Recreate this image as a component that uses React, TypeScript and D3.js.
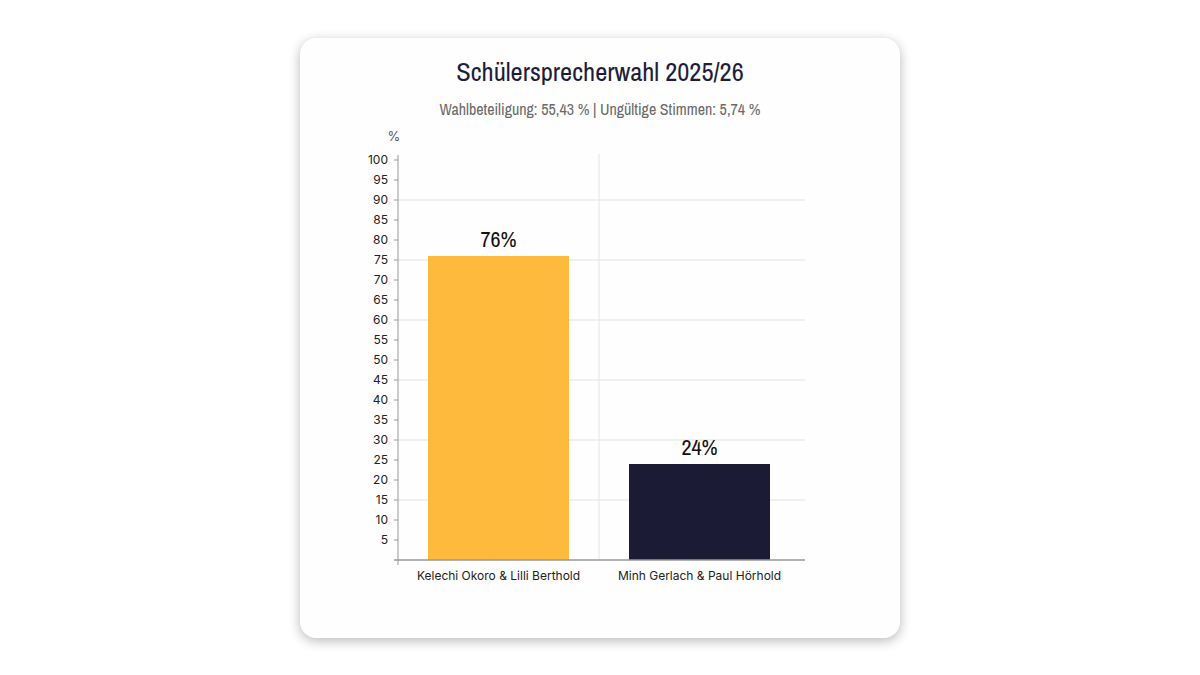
import { scaleBand, scaleLinear, range } from 'd3'

// chart data
const candidates = ['Kelechi Okoro & Lilli Berthold', 'Minh Gerlach & Paul Hörhold']
const shares = [76, 24]
const barColors = ['#FDBA3C', '#1C1B36']
const yTicks = range(5, 101, 5)
const gridTicks = [15, 30, 45, 60, 75, 90]

const title = 'Schülersprecherwahl 2025/26'
const subtitle = 'Wahlbeteiligung: 55,43 % | Ungültige Stimmen: 5,74 %'

const narrow = "'Liberation Sans Narrow', 'Archivo Narrow', 'DejaVu Sans Condensed', sans-serif"
const sans = "Inter, 'Noto Sans', sans-serif"

export default function App() {
  // plot area in card coordinates (card is 600x600)
  const left = 98
  const right = 500
  const gridRight = 505
  const top = 122
  const bottom = 522

  const x = scaleBand().domain(candidates).range([left, right]).paddingInner(0).paddingOuter(0)
  const y = scaleLinear().domain([0, 100]).range([bottom, top])
  const barPad = 30
  const bw = x.bandwidth() - barPad * 2

  return (
    <div style={{ position: 'absolute', left: 0, top: 0, width: 1200, height: 675, background: '#fff' }}>
      <div
        style={{
          position: 'absolute',
          left: 300,
          top: 38,
          width: 600,
          height: 600,
          borderRadius: 16,
          background: '#fefefe',
          boxShadow: '0 3px 12px rgba(0,0,0,0.28)',
        }}
      >
        <svg width={600} height={600}>
          <text x={300} y={43} textAnchor="middle" fontFamily={narrow} fontSize={26.5} fill="#1E1D3B">
            {title}
          </text>
          <text x={300} y={77} textAnchor="middle" fontFamily={narrow} fontSize={16} fill="#6a6a6a">
            {subtitle}
          </text>
          <text x={94} y={103} textAnchor="middle" fontFamily={sans} fontSize={13} fill="#555">
            %
          </text>

          {/* grid */}
          {gridTicks.map((t) => (
            <line key={t} x1={left} x2={gridRight} y1={y(t)} y2={y(t)} stroke="#ebebeb" strokeWidth={1.5} />
          ))}
          <line x1={x(candidates[1])} x2={x(candidates[1])} y1={top - 6} y2={bottom} stroke="#e4e4e4" strokeWidth={1} />

          {/* bars */}
          {candidates.map((c, i) => (
            <g key={c}>
              <rect x={(x(c) as number) + barPad} y={y(shares[i])} width={bw} height={bottom - y(shares[i])} fill={barColors[i]} />
              <text
                x={(x(c) as number) + x.bandwidth() / 2}
                y={y(shares[i]) - 9}
                textAnchor="middle"
                fontFamily={narrow}
                fontSize={22}
                fill="#111"
              >
                {shares[i]}%
              </text>
              <text
                x={(x(c) as number) + x.bandwidth() / 2}
                y={bottom + 20}
                textAnchor="middle"
                fontFamily={sans}
                fontSize={12}
                fill="#222"
              >
                {c}
              </text>
            </g>
          ))}

          {/* y axis */}
          <line x1={left} x2={left} y1={top - 5} y2={bottom + 5} stroke="#999" strokeWidth={1} />
          {yTicks.map((t) => (
            <g key={t}>
              <line x1={left - 4} x2={left} y1={y(t)} y2={y(t)} stroke="#999" />
              <text x={left - 10} y={y(t)} dy="0.35em" textAnchor="end" fontFamily={sans} fontSize={12} fill="#222">
                {t}
              </text>
            </g>
          ))}
          {/* x axis */}
          <line x1={left - 4} x2={gridRight} y1={bottom} y2={bottom} stroke="#999" strokeWidth={1.5} />
        </svg>
      </div>
    </div>
  )
}
